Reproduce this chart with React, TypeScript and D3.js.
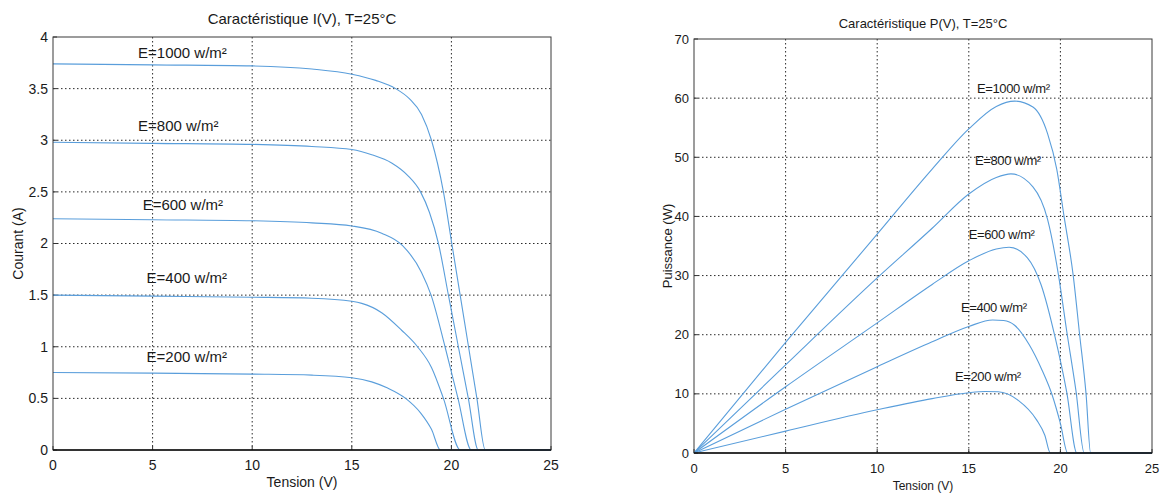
import React, { useEffect, useRef } from 'react';
import * as d3 from 'd3';

const width = 1165;
const height = 494;

const irradiances = [1000, 800, 600, 400, 200];

// Caractéristique I(V): [tension (V), courant (A)]
const iv1000 = [[0, 3.74], [5, 3.73], [10, 3.72], [13, 3.69], [15, 3.64], [16.2, 3.58], [17.2, 3.5], [17.9, 3.4], [18.5, 3.25], [19.0, 3.0], [19.6, 2.5], [20.02, 2.0], [20.44, 1.5], [20.86, 1.0], [21.28, 0.5], [21.7, 0], [25, 0]];
const iv800 = [[0, 2.98], [5, 2.97], [10, 2.96], [13, 2.94], [15, 2.91], [16.0, 2.86], [17.0, 2.78], [17.8, 2.66], [18.45, 2.5], [18.9, 2.3], [19.35, 2.0], [19.85, 1.5], [20.35, 1.0], [20.85, 0.5], [21.35, 0], [25, 0]];
const iv600 = [[0, 2.24], [5, 2.23], [10, 2.22], [13, 2.2], [15, 2.17], [16.5, 2.1], [17.55, 1.98], [18.5, 1.72], [18.98, 1.5], [19.68, 1.0], [20.33, 0.5], [21.0, 0], [25, 0]];
const iv400 = [[0, 1.5], [5, 1.49], [10, 1.48], [13, 1.47], [15, 1.44], [15.5, 1.42], [16.5, 1.33], [17.5, 1.16], [18.3, 1.0], [19.0, 0.8], [19.6, 0.5], [20.45, 0], [25, 0]];
const iv200 = [[0, 0.75], [5, 0.745], [10, 0.735], [13, 0.725], [15, 0.7], [16.0, 0.66], [16.8, 0.6], [17.7, 0.5], [18.45, 0.36], [19.0, 0.2], [19.45, 0], [25, 0]];

// Caractéristique P(V): [tension (V), puissance (W)]
const pv1000 = [[0, 0], [5, 18.7], [10, 37], [13, 48], [15, 54.8], [16.5, 58.6], [17.5, 59.5], [18.5, 58.5], [19.3, 54], [19.8, 48], [20.2, 40], [20.7, 30], [21.05, 20], [21.4, 10], [21.65, 0], [25, 0]];
const pv800 = [[0, 0], [5, 14.9], [10, 29.6], [13, 38], [15, 43.8], [16.5, 46.6], [17.3, 47.2], [18.5, 45], [19.3, 39.5], [19.9, 30], [20.35, 20.5], [20.85, 10.5], [21.3, 0], [25, 0]];
const pv600 = [[0, 0], [5, 11.2], [10, 22], [13, 28.5], [15, 32.5], [16.5, 34.5], [17.2, 34.8], [18.2, 33], [18.95, 28.4], [19.7, 19.7], [20.35, 10.2], [20.9, 0], [25, 0]];
const pv400 = [[0, 0], [5, 7.4], [10, 14.6], [13, 18.8], [15, 21.4], [16.3, 22.5], [16.9, 22.4], [17.5, 21.6], [18.3, 18.3], [19.0, 14], [19.55, 9.8], [20.0, 5], [20.4, 0], [25, 0]];
const pv200 = [[0, 0], [5, 3.7], [10, 7.3], [13, 9.2], [15, 10.2], [15.9, 10.4], [16.6, 10.35], [17.7, 8.9], [18.7, 5.6], [19.15, 3], [19.45, 0], [25, 0]];

const ivSeries = [iv1000, iv800, iv600, iv400, iv200];
const pvSeries = [pv1000, pv800, pv600, pv400, pv200];

// tick values
const vTicks = [0, 5, 10, 15, 20, 25];
const iTicks = [0, 0.5, 1, 1.5, 2, 2.5, 3, 3.5, 4];
const pTicks = [0, 10, 20, 30, 40, 50, 60, 70];

// annotation anchors (data units): text start and baseline
const ivLabelV = [4.27, 4.27, 4.5, 4.7, 4.7];
const ivLabelI = [3.8, 3.09, 2.32, 1.62, 0.85];
const pvLabelV = [15.45, 15.34, 15.0, 14.57, 14.25];
const pvLabelP = [60.9, 48.7, 36.2, 23.8, 12.2];

const FONT = "'Liberation Sans', Arial, sans-serif";
const CURVE = '#5a9edb';
const GRID = '#2a2a2a';

type Panel = {
  left: number; right: number; top: number; bottom: number;
  yMax: number; yTicks: number[];
  series: number[][][];
  labelV: number[]; labelY: number[];
  title: string; titleY: number; titleSize: number;
  yLabel: string; yLabelX: number; yLabelSize: number;
  tickSize: number; textSize: number;
};

const drawPanel = (svg: d3.Selection<SVGSVGElement, unknown, null, undefined>, p: Panel) => {
  const x = d3.scaleLinear().domain([0, 25]).range([p.left, p.right]);
  const y = d3.scaleLinear().domain([0, p.yMax]).range([p.bottom, p.top]);
  const g = svg.append('g');

  // dotted grid
  g.selectAll('.vgrid')
    .data(vTicks.slice(1, -1))
    .enter().append('line')
    .attr('x1', d => x(d)).attr('x2', d => x(d))
    .attr('y1', p.top).attr('y2', p.bottom)
    .attr('stroke', GRID).attr('stroke-width', 1)
    .attr('stroke-dasharray', '1.5,2.5');
  g.selectAll('.hgrid')
    .data(p.yTicks.slice(1, -1))
    .enter().append('line')
    .attr('x1', p.left).attr('x2', p.right)
    .attr('y1', d => y(d)).attr('y2', d => y(d))
    .attr('stroke', GRID).attr('stroke-width', 1)
    .attr('stroke-dasharray', '1.5,2.5');

  // small inner ticks
  g.selectAll('.xt')
    .data(vTicks)
    .enter().append('line')
    .attr('x1', d => x(d)).attr('x2', d => x(d))
    .attr('y1', p.bottom).attr('y2', p.bottom - 4)
    .attr('stroke', '#333');
  g.selectAll('.yt')
    .data(p.yTicks)
    .enter().append('line')
    .attr('x1', p.left).attr('x2', p.left + 4)
    .attr('y1', d => y(d)).attr('y2', d => y(d))
    .attr('stroke', '#333');

  // curves
  const line = d3.line<number[]>()
    .x(d => x(d[0]))
    .y(d => y(d[1]))
    .curve(d3.curveMonotoneX);
  g.selectAll('.curve')
    .data(p.series)
    .enter().append('path')
    .attr('d', d => line(d) as string)
    .attr('fill', 'none')
    .attr('stroke', CURVE)
    .attr('stroke-width', 1.1);

  // frame
  g.append('rect')
    .attr('x', p.left).attr('y', p.top)
    .attr('width', p.right - p.left).attr('height', p.bottom - p.top)
    .attr('fill', 'none').attr('stroke', '#3a3a3a').attr('stroke-width', 1);
  g.append('line')
    .attr('x1', p.left).attr('x2', p.right)
    .attr('y1', p.bottom).attr('y2', p.bottom)
    .attr('stroke', '#111').attr('stroke-width', 1.5);

  // tick labels
  g.selectAll('.xl')
    .data(vTicks)
    .enter().append('text')
    .attr('x', d => x(d)).attr('y', p.bottom + 20)
    .attr('text-anchor', 'middle')
    .attr('font-size', p.tickSize)
    .text(d => String(d));
  g.selectAll('.yl')
    .data(p.yTicks)
    .enter().append('text')
    .attr('x', p.left - 5).attr('y', d => y(d))
    .attr('dy', '0.35em')
    .attr('text-anchor', 'end')
    .attr('font-size', p.tickSize)
    .text(d => String(d));

  // irradiance annotations
  g.selectAll('.ann')
    .data(irradiances)
    .enter().append('text')
    .attr('x', (d, i) => x(p.labelV[i]))
    .attr('y', (d, i) => y(p.labelY[i]))
    .attr('font-size', p.textSize)
    .attr('letter-spacing', p.textSize < 14 ? -0.4 : 0)
    .text(d => `E=${d} w/m²`);

  // titles
  const cx = (p.left + p.right) / 2;
  g.append('text')
    .attr('x', cx).attr('y', p.titleY)
    .attr('text-anchor', 'middle')
    .attr('font-size', p.titleSize)
    .text(p.title);
  g.append('text')
    .attr('x', cx).attr('y', p.bottom + 37)
    .attr('text-anchor', 'middle')
    .attr('font-size', p.titleSize - 1)
    .text('Tension (V)');
  g.append('text')
    .attr('transform', `translate(${p.yLabelX},${(p.top + p.bottom) / 2}) rotate(-90)`)
    .attr('text-anchor', 'middle')
    .attr('dy', '0.35em')
    .attr('font-size', p.yLabelSize)
    .text(p.yLabel);
};

const App = () => {
  const ref = useRef<SVGSVGElement>(null);

  useEffect(() => {
    const svg = d3.select(ref.current as SVGSVGElement);
    svg.selectAll('*').remove();
    svg.attr('font-family', FONT).attr('fill', '#1a1a1a');

    svg.append('rect').attr('width', width).attr('height', height).attr('fill', '#fff');

    drawPanel(svg, {
      left: 53, right: 551, top: 37, bottom: 450,
      yMax: 4, yTicks: iTicks, series: ivSeries,
      labelV: ivLabelV, labelY: ivLabelI,
      title: 'Caractéristique I(V), T=25°C', titleY: 24, titleSize: 15,
      yLabel: 'Courant (A)', yLabelX: 18, yLabelSize: 14,
      tickSize: 14, textSize: 15,
    });

    drawPanel(svg, {
      left: 694, right: 1152, top: 39, bottom: 453,
      yMax: 70, yTicks: pTicks, series: pvSeries,
      labelV: pvLabelV, labelY: pvLabelP,
      title: 'Caractéristique P(V), T=25°C', titleY: 28, titleSize: 13,
      yLabel: 'Puissance (W)', yLabelX: 667, yLabelSize: 13,
      tickSize: 13, textSize: 13,
    });
  }, []);

  return (
    <svg ref={ref} width={width} height={height}
      style={{ position: 'absolute', left: 0, top: 0, display: 'block' }} />
  );
};

export default App;
